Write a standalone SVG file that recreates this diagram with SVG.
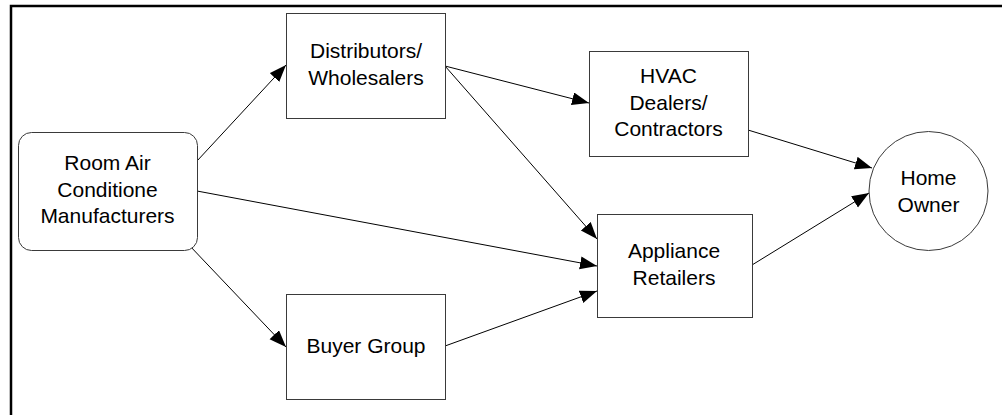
<svg xmlns="http://www.w3.org/2000/svg" width="1002" height="415" viewBox="0 0 1002 415">
  <style>
    .box { fill: #ffffff; stroke: #3a3a3a; stroke-width: 1; }
    .lbl { font-family: "Liberation Sans", Arial, sans-serif; font-size: 21px; fill: #000000; text-anchor: middle; }
    .edge { stroke: #000000; stroke-width: 1; fill: none; marker-end: url(#arrow); }
  </style>
  <defs>
    <marker id="arrow" markerUnits="userSpaceOnUse" markerWidth="18" markerHeight="14" refX="17" refY="6.5" orient="auto">
      <path d="M0,0 L17,6.5 L0,13 Z" fill="#000000"/>
    </marker>
  </defs>
  <rect width="1002" height="415" fill="#ffffff"/>
  <!-- outer frame -->
  <path d="M11,415 L11,6 L1002,6" fill="none" stroke="#000000" stroke-width="2.5"/>

  <g id="connectors">
    <line class="edge" x1="197" y1="161" x2="286" y2="65"/>
    <line class="edge" x1="197" y1="191" x2="597" y2="266"/>
    <line class="edge" x1="189" y1="245" x2="286" y2="347"/>
    <line class="edge" x1="445" y1="66" x2="589" y2="103"/>
    <line class="edge" x1="445" y1="66" x2="597" y2="239"/>
    <line class="edge" x1="445" y1="346" x2="597" y2="291"/>
    <line class="edge" x1="748" y1="130" x2="872" y2="168"/>
    <line class="edge" x1="752" y1="265" x2="869" y2="193"/>
  </g>

  <g id="manufacturers">
    <rect class="box" x="18.5" y="132.5" width="179" height="118" rx="13"/>
    <text class="lbl" x="107.5" y="170">Room Air</text>
    <text class="lbl" x="107.5" y="197">Conditione</text>
    <text class="lbl" x="107.5" y="223">Manufacturers</text>
  </g>

  <g id="distributors">
    <rect class="box" x="286.5" y="13.5" width="159" height="105"/>
    <text class="lbl" x="366" y="58">Distributors/</text>
    <text class="lbl" x="366" y="85">Wholesalers</text>
  </g>

  <g id="buyer-group">
    <rect class="box" x="286.5" y="294.5" width="159" height="105"/>
    <text class="lbl" x="366" y="353">Buyer Group</text>
  </g>

  <g id="hvac">
    <rect class="box" x="589.5" y="51.5" width="159" height="105"/>
    <text class="lbl" x="668.5" y="83">HVAC</text>
    <text class="lbl" x="668.5" y="110">Dealers/</text>
    <text class="lbl" x="668.5" y="136">Contractors</text>
  </g>

  <g id="appliance-retailers">
    <rect class="box" x="597.5" y="214.5" width="155" height="103"/>
    <text class="lbl" x="674" y="258">Appliance</text>
    <text class="lbl" x="674" y="285">Retailers</text>
  </g>

  <g id="home-owner">
    <circle class="box" cx="928.5" cy="191" r="59.5"/>
    <text class="lbl" x="928.5" y="185">Home</text>
    <text class="lbl" x="928.5" y="212">Owner</text>
  </g>
</svg>
